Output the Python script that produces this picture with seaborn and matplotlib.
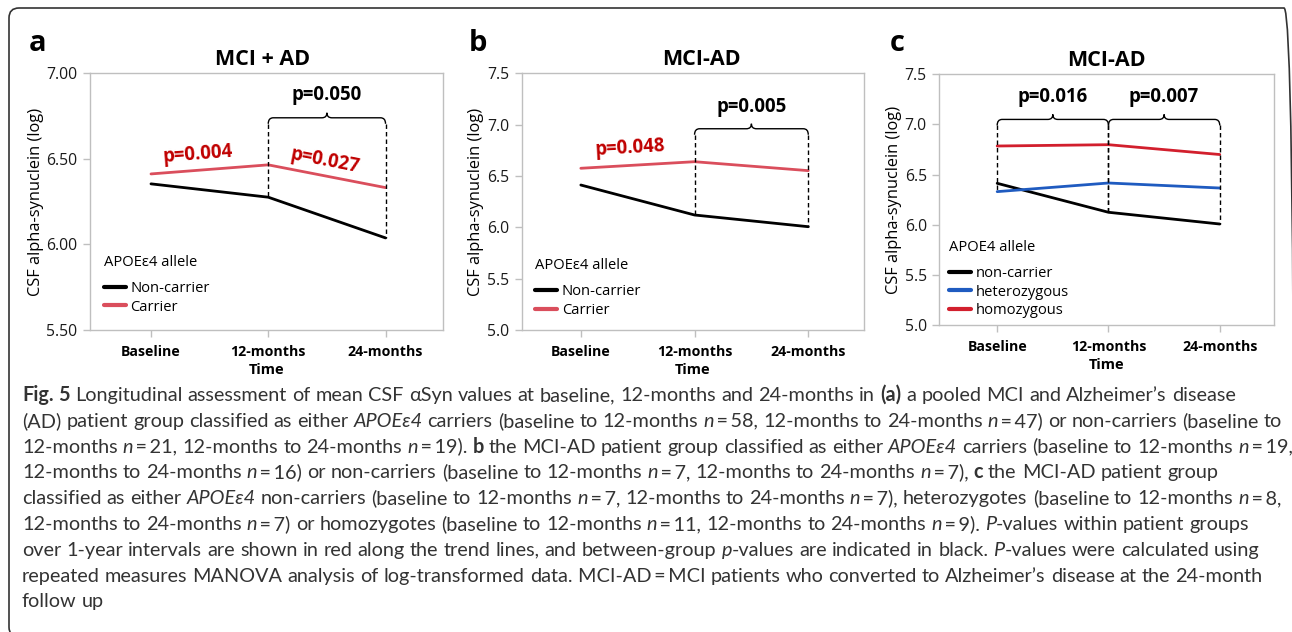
import re
import numpy as np
import pandas as pd
import matplotlib
matplotlib.use('Agg')
import matplotlib.pyplot as plt
import seaborn as sns
from matplotlib.patches import FancyBboxPatch, PathPatch
from matplotlib.path import Path
from matplotlib.lines import Line2D
from matplotlib.transforms import IdentityTransform
from matplotlib.font_manager import FontProperties

# ---------------- data ----------------
timepoints = ['Baseline', '12-months', '24-months']

a_labels = ['Non-carrier', 'Carrier']
a_noncarrier = [6.354, 6.276, 6.038]
a_carrier = [6.412, 6.465, 6.332]

b_labels = ['Non-carrier', 'Carrier']
b_noncarrier = [6.412, 6.120, 6.006]
b_carrier = [6.575, 6.639, 6.552]

c_labels = ['non-carrier', 'heterozygous', 'homozygous']
c_noncarrier = [6.413, 6.124, 6.007]
c_heterozygous = [6.330, 6.416, 6.366]
c_homozygous = [6.785, 6.798, 6.700]

a_yticks = [5.50, 6.00, 6.50, 7.00]
bc_yticks = [5.0, 5.5, 6.0, 6.5, 7.0, 7.5]

titles = ['MCI + AD', 'MCI-AD', 'MCI-AD']
panel_letters = ['a', 'b', 'c']
legend_titles = ['APOEε4 allele', 'APOEε4 allele', 'APOE4 allele']
x_label = 'Time'
y_label = 'CSF alpha-synuclein (log)'

# within-group p-values: (label, segment start index, x, y)
a_within = [('p=0.004', 0, 0.40, 6.525), ('p=0.027', 1, 1.48, 6.49)]
b_within = [('p=0.048', 0, 0.43, 6.77)]
c_within = []
# between-group p-values: (label, from index, to index, brace y, text y)
a_between = [('p=0.050', 1, 2, 6.74, 6.873)]
b_between = [('p=0.005', 1, 2, 6.96, 7.172)]
c_between = [('p=0.016', 0, 1, 7.05, 7.27), ('p=0.007', 1, 2, 7.05, 7.27)]

caption_lines = [
    "**Fig. 5** Longitudinal assessment of mean CSF αSyn values at baseline, 12-months and 24-months in **(a)** a pooled MCI and Alzheimer’s disease",
    "(AD) patient group classified as either *APOEε4* carriers (baseline to 12-months *n*\u2009=\u200958, 12-months to 24-months *n*\u2009=\u200947) or non-carriers (baseline to",
    "12-months *n*\u2009=\u200921, 12-months to 24-months *n*\u2009=\u200919). **b** the MCI-AD patient group classified as either *APOEε4* carriers (baseline to 12-months *n*\u2009=\u200919,",
    "12-months to 24-months *n*\u2009=\u200916) or non-carriers (baseline to 12-months *n*\u2009=\u20097, 12-months to 24-months *n*\u2009=\u20097), **c** the MCI-AD patient group",
    "classified as either *APOEε4* non-carriers (baseline to 12-months *n*\u2009=\u20097, 12-months to 24-months *n*\u2009=\u20097), heterozygotes (baseline to 12-months *n*\u2009=\u20098,",
    "12-months to 24-months *n*\u2009=\u20097) or homozygotes (baseline to 12-months *n*\u2009=\u200911, 12-months to 24-months *n*\u2009=\u20099). *P*-values within patient groups",
    "over 1-year intervals are shown in red along the trend lines, and between-group *p*-values are indicated in black. *P*-values were calculated using",
    "repeated measures MANOVA analysis of log-transformed data. MCI-AD\u2009=\u2009MCI patients who converted to Alzheimer’s disease at the 24-month",
    "follow up",
]

# ---------------- style ----------------
sns.set_theme(style='white')
plt.rcParams['font.family'] = ['Open Sans', 'DejaVu Sans']
plt.rcParams['text.color'] = 'black'
plt.rcParams['axes.labelcolor'] = 'black'
plt.rcParams['xtick.color'] = '#bfbfbf'
plt.rcParams['ytick.color'] = '#bfbfbf'
plt.rcParams['xtick.labelcolor'] = 'black'
plt.rcParams['ytick.labelcolor'] = '#1a1a1a'

BLACK = '#000000'
RED_AB = '#DA4E5C'
RED_C = '#D21F2D'
BLUE_C = '#1F5BC0'
RED_TXT = '#C00000'
SPINE = '#bfbfbf'

W, H = 1292, 632
fig = plt.figure(figsize=(W / 100, H / 100), dpi=100)
fig.patch.set_facecolor('white')


def add_ax(l, r, t, b):
    return fig.add_axes([l / W, 1 - b / H, (r - l) / W, (b - t) / H])


ax_a = add_ax(90, 443, 73.3, 330)
ax_b = add_ax(521.7, 864, 73.3, 330)
ax_c = add_ax(939.3, 1274.3, 74.3, 325)

panels = [
    dict(ax=ax_a, labels=a_labels, series=[a_noncarrier, a_carrier], colors=[BLACK, RED_AB],
         ylim=(5.5, 7.0), yticks=a_yticks, fmt='{:.2f}', title=titles[0], title_x=0.49,
         letter=panel_letters[0], letter_x=38, leg_title=legend_titles[0], leg_anchor=(0.040, 0.293),
         within=a_within, between=a_between, angle_series=a_carrier),
    dict(ax=ax_b, labels=b_labels, series=[b_noncarrier, b_carrier], colors=[BLACK, RED_AB],
         ylim=(5.0, 7.5), yticks=bc_yticks, fmt='{:.1f}', title=titles[1], title_x=0.525,
         letter=panel_letters[1], letter_x=478, leg_title=legend_titles[1], leg_anchor=(0.040, 0.281),
         within=b_within, between=b_between, angle_series=b_carrier),
    dict(ax=ax_c, labels=c_labels, series=[c_noncarrier, c_heterozygous, c_homozygous],
         colors=[BLACK, BLUE_C, RED_C],
         ylim=(5.0, 7.5), yticks=bc_yticks, fmt='{:.1f}', title=titles[2], title_x=0.5,
         letter=panel_letters[2], letter_x=897, leg_title=legend_titles[2], leg_anchor=(0.030, 0.340),
         within=c_within, between=c_between, angle_series=None),
]

MOVETO, LINETO, CURVE3 = Path.MOVETO, Path.LINETO, Path.CURVE3


def draw_brace(ax, series, i0, i1, y):
    T = ax.transData
    px0, py = T.transform((i0, y))
    px1, _ = T.transform((i1, y))
    pm = (px0 + px1) / 2
    d, r, h = 6, 5, 5
    verts = [(px0, py - d), (px0, py), (px0 + r, py), (pm - r, py), (pm, py), (pm, py + h),
             (pm, py), (pm + r, py), (px1 - r, py), (px1, py), (px1, py - d)]
    codes = [MOVETO, CURVE3, CURVE3, LINETO, CURVE3, CURVE3, CURVE3, CURVE3, LINETO, CURVE3, CURVE3]
    fig.add_artist(PathPatch(Path(verts, codes), fill=False, lw=1.0, ec='black',
                             transform=IdentityTransform(), clip_on=False, zorder=5))
    for xi in (i0, i1):
        ymin = min(s[xi] for s in series)
        pxi, pyl = T.transform((xi, ymin))
        fig.add_artist(Line2D([pxi, pxi], [py - d, pyl], color='black', lw=1.0,
                              ls=(0, (3.2, 2.2)), transform=IdentityTransform(), zorder=5))


for p in panels:
    ax = p['ax']
    n = len(timepoints)
    df = pd.DataFrame({
        'Time': timepoints * len(p['series']),
        'value': np.concatenate([np.asarray(s, dtype=float) for s in p['series']]),
        'group': np.repeat(p['labels'], n),
    })
    sns.lineplot(data=df, x='Time', y='value', hue='group', hue_order=p['labels'],
                 palette=p['colors'], sort=False, errorbar=None, linewidth=2.0,
                 ax=ax, legend=False)
    ax.set_xlim(-0.52, 2.49)
    ax.set_ylim(*p['ylim'])
    ax.set_yticks(p['yticks'])
    ax.set_yticklabels([p['fmt'].format(v) for v in p['yticks']], fontsize=11.3)
    ax.set_xticks(range(n))
    ax.set_xticklabels(timepoints, fontsize=10.2, fontweight='bold')
    for sp in ax.spines.values():
        sp.set_visible(True)
        sp.set_color(SPINE)
        sp.set_linewidth(1.0)
    ax.tick_params(axis='both', which='major', direction='out', length=5, width=1.0,
                   color=SPINE, bottom=True, left=True)
    ax.tick_params(axis='y', pad=4)
    ax.tick_params(axis='x', pad=6)
    ax.set_xlabel(x_label, fontsize=10.5, fontweight='bold', labelpad=3)
    ax.set_ylabel(y_label, fontsize=11.8, labelpad=2)
    ax.grid(False)
    ax.set_title(p['title'], fontsize=15.5, fontweight='bold', pad=6, x=p['title_x'])
    fig.text(p['letter_x'] / W, 1 - 51 / H, p['letter'], fontsize=21, fontweight='bold',
             ha='center', va='baseline')

    handles = [Line2D([], [], color=c, lw=3.0) for c in p['colors']]
    leg = ax.legend(handles, p['labels'], title=p['leg_title'], loc='upper left',
                    bbox_to_anchor=p['leg_anchor'], frameon=False, alignment='left',
                    handlelength=1.5, handletextpad=0.3, labelspacing=0.25,
                    borderpad=0, borderaxespad=0, fontsize=10.6, title_fontsize=10.6)
    try:
        leg._legend_box.sep = 8
    except Exception:
        pass

    for lbl, i, tx, ty in p['within']:
        s = p['angle_series']
        p0 = ax.transData.transform((i, s[i]))
        p1 = ax.transData.transform((i + 1, s[i + 1]))
        ang = np.degrees(np.arctan2(p1[1] - p0[1], p1[0] - p0[0]))
        ax.text(tx, ty, lbl, color=RED_TXT, fontsize=13.4, fontweight='bold', rotation=ang,
                rotation_mode='anchor', ha='center', va='center', zorder=6)

    for lbl, i0, i1, by, ty in p['between']:
        draw_brace(ax, p['series'], i0, i1, by)
        ax.text((i0 + i1) / 2, ty, lbl, color='black', fontsize=13.4, fontweight='bold',
                ha='center', va='center', zorder=6)

# ---------------- frame ----------------
fig.add_artist(FancyBboxPatch((9, -5), 1294 - 9, 624 + 5, boxstyle='round,pad=0,rounding_size=10',
                              fill=False, ec='#333333', lw=1.2, transform=IdentityTransform(),
                              clip_on=False, zorder=1))

# ---------------- caption ----------------
renderer = fig.canvas.get_renderer()
CAP_X = 22
CAP_BASE0 = 401
CAP_STEP = 25.8
CAP_COLOR = '#333333'
cap_family = ['Lato', 'DejaVu Sans']


def tw(s, fp):
    w1 = renderer.get_text_width_height_descent('|' + s + '|', fp, ismath=False)[0]
    w0 = renderer.get_text_width_height_descent('||', fp, ismath=False)[0]
    return w1 - w0


def rich_line(y_px, line, size, draw=True):
    x = CAP_X
    for part in re.split(r'(\*\*[^*]+\*\*|\*[^*]+\*)', line):
        if not part:
            continue
        if part.startswith('**'):
            txt, wgt, sty = part[2:-2], 'bold', 'normal'
        elif part.startswith('*'):
            txt, wgt, sty = part[1:-1], 'normal', 'italic'
        else:
            txt, wgt, sty = part, 'normal', 'normal'
        fp = FontProperties(family=cap_family, weight=wgt, style=sty, size=size)
        for tok in re.split(r'( )', txt):
            if tok == '':
                continue
            if tok == ' ':
                x += tw(' ', fp)
                continue
            if draw:
                fig.text(x / W, 1 - y_px / H, tok, fontproperties=fp, color=CAP_COLOR,
                         ha='left', va='baseline')
            x += tw(tok, fp)
    return x - CAP_X


base_size = 13.0
w_line1 = rich_line(0, caption_lines[0], base_size, draw=False)
cap_size = base_size * 1211.0 / w_line1
for k, line in enumerate(caption_lines):
    rich_line(CAP_BASE0 + CAP_STEP * k, line, cap_size)

fig.savefig('out.png', dpi=100, facecolor='white')
